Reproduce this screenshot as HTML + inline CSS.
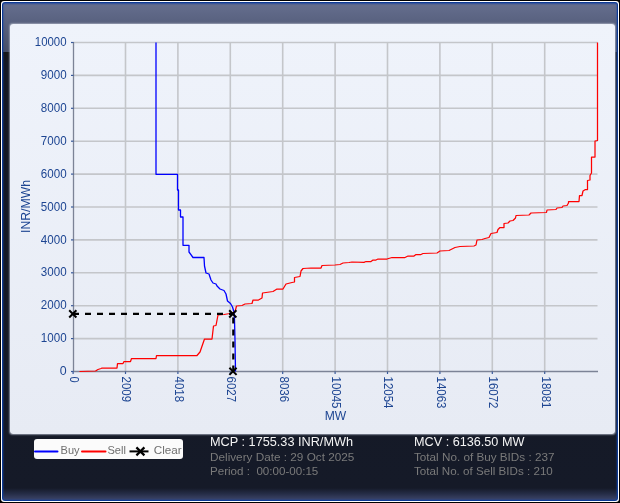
<!DOCTYPE html>
<html><head><meta charset="utf-8">
<style>
html,body{margin:0;padding:0;}
body{width:620px;height:503px;overflow:hidden;position:relative;background:#000;font-family:"Liberation Sans",sans-serif;}
#w{position:absolute;left:1px;top:1px;width:618px;height:501px;background:#fff;border-radius:3px;}
#b{position:absolute;left:2px;top:2px;width:616px;height:499px;background:#0c3a96;border-radius:3px;}
#in{position:absolute;left:3px;top:3px;width:614px;height:497px;border-radius:2px;overflow:hidden;
 background:linear-gradient(to bottom,#3f5590 0px,#646d8d 2px,#5a6381 17px,#474f68 48px,#454d66 49px,#161719 49.5px,#141824 60px,#151a28 485px,#262d48 491px,#3a4264 496px,#3a4264 497px);}
#pn{position:absolute;left:9.5px;top:24px;width:605.5px;height:409.5px;border-radius:3px;
 background:linear-gradient(to bottom,#eff3fb 0%,#e7ebf4 100%);box-shadow:0 0 1.5px 0.8px rgba(165,172,188,.75);}
svg{position:absolute;left:0;top:0;}
#gl{position:absolute;left:3px;top:3px;width:614px;height:497px;border-radius:2px;box-shadow:inset 0 0 1.2px 0.6px rgba(20,70,170,.55);}
.g{stroke:#c4c6ca;stroke-width:1.6;}
.ax{stroke:#7c8396;stroke-width:1.3;}
.tk{stroke:#3a5a9a;stroke-width:1.2;}
.yl{font-size:12.4px;fill:#1d4592;text-anchor:end;}
.xl{font-size:12.4px;fill:#1d4592;}
.tt{font-size:12.2px;fill:#1d4592;}
.buy{fill:none;stroke:#0000ff;stroke-width:1.3;stroke-linejoin:round;}
.sell{fill:none;stroke:#ff0000;stroke-width:1.25;stroke-linejoin:round;}
.cl{stroke:#000;stroke-width:2.2;stroke-dasharray:6 6;}
.xm{stroke:#000;stroke-width:2;fill:none;}
#lg{position:absolute;left:34px;top:439.2px;width:149px;height:20px;background:#fbfbfb;border-radius:3px;}
.lt{position:absolute;top:443px;font-size:12px;color:#6f6f6f;line-height:14px;white-space:nowrap;}
.st{position:absolute;font-size:12px;line-height:14px;white-space:nowrap;}
.wh{fill:#f4f4f4;font-size:12.7px;}
.gy{fill:#7a7a7a;font-size:11px;}
.lg{fill:#6f6f6f;font-size:11.2px;}
</style></head><body>
<div id="w"></div><div id="b"></div><div id="in"></div>
<div id="pn"></div><div id="gl"></div>
<svg width="620" height="503" viewBox="0 0 620 503" style="will-change:transform">
<line x1="73.5" y1="42.50" x2="597.5" y2="42.50" class="g"/>
<line x1="73.5" y1="75.40" x2="597.5" y2="75.40" class="g"/>
<line x1="73.5" y1="108.30" x2="597.5" y2="108.30" class="g"/>
<line x1="73.5" y1="141.20" x2="597.5" y2="141.20" class="g"/>
<line x1="73.5" y1="174.10" x2="597.5" y2="174.10" class="g"/>
<line x1="73.5" y1="207.00" x2="597.5" y2="207.00" class="g"/>
<line x1="73.5" y1="239.90" x2="597.5" y2="239.90" class="g"/>
<line x1="73.5" y1="272.80" x2="597.5" y2="272.80" class="g"/>
<line x1="73.5" y1="305.70" x2="597.5" y2="305.70" class="g"/>
<line x1="73.5" y1="338.60" x2="597.5" y2="338.60" class="g"/>
<line x1="125.50" y1="42.5" x2="125.50" y2="371.5" class="g"/>
<line x1="177.90" y1="42.5" x2="177.90" y2="371.5" class="g"/>
<line x1="230.30" y1="42.5" x2="230.30" y2="371.5" class="g"/>
<line x1="282.70" y1="42.5" x2="282.70" y2="371.5" class="g"/>
<line x1="335.10" y1="42.5" x2="335.10" y2="371.5" class="g"/>
<line x1="387.50" y1="42.5" x2="387.50" y2="371.5" class="g"/>
<line x1="439.90" y1="42.5" x2="439.90" y2="371.5" class="g"/>
<line x1="492.30" y1="42.5" x2="492.30" y2="371.5" class="g"/>
<line x1="544.70" y1="42.5" x2="544.70" y2="371.5" class="g"/>
<line x1="73.5" y1="42" x2="73.5" y2="372" class="ax"/>
<line x1="73" y1="371.5" x2="598" y2="371.5" class="ax"/>
<line x1="71" y1="42.50" x2="73.5" y2="42.50" class="tk"/>
<line x1="71" y1="75.40" x2="73.5" y2="75.40" class="tk"/>
<line x1="71" y1="108.30" x2="73.5" y2="108.30" class="tk"/>
<line x1="71" y1="141.20" x2="73.5" y2="141.20" class="tk"/>
<line x1="71" y1="174.10" x2="73.5" y2="174.10" class="tk"/>
<line x1="71" y1="207.00" x2="73.5" y2="207.00" class="tk"/>
<line x1="71" y1="239.90" x2="73.5" y2="239.90" class="tk"/>
<line x1="71" y1="272.80" x2="73.5" y2="272.80" class="tk"/>
<line x1="71" y1="305.70" x2="73.5" y2="305.70" class="tk"/>
<line x1="71" y1="338.60" x2="73.5" y2="338.60" class="tk"/>
<line x1="71" y1="371.50" x2="73.5" y2="371.50" class="tk"/>
<line x1="73.10" y1="371.5" x2="73.10" y2="374" class="tk"/>
<line x1="125.50" y1="371.5" x2="125.50" y2="374" class="tk"/>
<line x1="177.90" y1="371.5" x2="177.90" y2="374" class="tk"/>
<line x1="230.30" y1="371.5" x2="230.30" y2="374" class="tk"/>
<line x1="282.70" y1="371.5" x2="282.70" y2="374" class="tk"/>
<line x1="335.10" y1="371.5" x2="335.10" y2="374" class="tk"/>
<line x1="387.50" y1="371.5" x2="387.50" y2="374" class="tk"/>
<line x1="439.90" y1="371.5" x2="439.90" y2="374" class="tk"/>
<line x1="492.30" y1="371.5" x2="492.30" y2="374" class="tk"/>
<line x1="544.70" y1="371.5" x2="544.70" y2="374" class="tk"/>
<text x="66.6" y="46.10" class="yl" textLength="31.8" lengthAdjust="spacingAndGlyphs">10000</text>
<text x="66.6" y="79.00" class="yl" textLength="25.8" lengthAdjust="spacingAndGlyphs">9000</text>
<text x="66.6" y="111.90" class="yl" textLength="25.8" lengthAdjust="spacingAndGlyphs">8000</text>
<text x="66.6" y="144.80" class="yl" textLength="25.8" lengthAdjust="spacingAndGlyphs">7000</text>
<text x="66.6" y="177.70" class="yl" textLength="25.8" lengthAdjust="spacingAndGlyphs">6000</text>
<text x="66.6" y="210.60" class="yl" textLength="25.8" lengthAdjust="spacingAndGlyphs">5000</text>
<text x="66.6" y="243.50" class="yl" textLength="25.8" lengthAdjust="spacingAndGlyphs">4000</text>
<text x="66.6" y="276.40" class="yl" textLength="25.8" lengthAdjust="spacingAndGlyphs">3000</text>
<text x="66.6" y="309.30" class="yl" textLength="25.8" lengthAdjust="spacingAndGlyphs">2000</text>
<text x="66.6" y="342.20" class="yl" textLength="25.8" lengthAdjust="spacingAndGlyphs">1000</text>
<text x="66.6" y="375.10" class="yl">0</text>
<text transform="translate(69.90,376.6) rotate(90)" class="xl" textLength="6.2" lengthAdjust="spacingAndGlyphs">0</text>
<text transform="translate(122.30,376.6) rotate(90)" class="xl" textLength="25.5" lengthAdjust="spacingAndGlyphs">2009</text>
<text transform="translate(174.70,376.6) rotate(90)" class="xl" textLength="25.5" lengthAdjust="spacingAndGlyphs">4018</text>
<text transform="translate(227.10,376.6) rotate(90)" class="xl" textLength="25.5" lengthAdjust="spacingAndGlyphs">6027</text>
<text transform="translate(279.50,376.6) rotate(90)" class="xl" textLength="25.5" lengthAdjust="spacingAndGlyphs">8036</text>
<text transform="translate(331.90,376.6) rotate(90)" class="xl" textLength="31.8" lengthAdjust="spacingAndGlyphs">10045</text>
<text transform="translate(384.30,376.6) rotate(90)" class="xl" textLength="31.8" lengthAdjust="spacingAndGlyphs">12054</text>
<text transform="translate(436.70,376.6) rotate(90)" class="xl" textLength="31.8" lengthAdjust="spacingAndGlyphs">14063</text>
<text transform="translate(489.10,376.6) rotate(90)" class="xl" textLength="31.8" lengthAdjust="spacingAndGlyphs">16072</text>
<text transform="translate(541.50,376.6) rotate(90)" class="xl" textLength="31.8" lengthAdjust="spacingAndGlyphs">18081</text>
<text transform="translate(30.2,206.5) rotate(-90)" class="tt" text-anchor="middle" textLength="53" lengthAdjust="spacingAndGlyphs">INR/MWh</text>
<text x="335.5" y="419.5" class="tt" text-anchor="middle" textLength="21.5" lengthAdjust="spacingAndGlyphs">MW</text>
<polyline points="156,42.5 156,174.3 177.5,174.3 177.5,190 178.5,190 178.5,210 180.5,210 180.5,217 183,217 183,245.3 189,245.3 189,252 193,257.5 204,257.5 204.5,266 206,273 209,274 211,280 213,283 216,284 217,286 220,289 224,290.5 226,294 227.5,301 230.5,303.5 232.5,307 234,312 234.5,320 235,340 235.5,371.5" class="buy"/>
<polyline points="79.5,371.5 95.5,371 98,369.5 101,368.5 102,368 117,368 117.5,363.5 123,363.5 124,361.5 130.5,361.5 131.5,358.5 156,358.5 156.5,355.5 197,355.5 200,352 204.5,339 212,339 213.5,326 216,325.5 218,315 224,314.5 230,313.5 235,312 236.5,306 242,305.5 245,304 252,303.5 253,300 258.5,300 262,298 262.5,293 273,291.5 277,289 283,289 286,284 292,282.5 294.5,282 294.5,277.5 300,276.5 301,271 303,268.5 311,268 321,268 322,265.5 335,265 340,264.5 343,263 349,262.5 352,262 364,262.3 366,261.5 371,261.5 373,260 376,260 378,259 387,259 392,257.5 405,257.5 408,256 414,256 416,254.5 421,254.5 423,253.5 437,253 440,251 449,250.5 455,247.5 460,246.5 474,246 476,245 477,240 482,239.5 485,238.5 489,237.5 491,233.5 497,232.5 498,229.5 500,227.5 504,227.5 504,223.5 508,223 510,221 513,220.5 515.5,218 516,215.5 529,215 531,213 546.5,212.5 547,210 556,209.5 557,208 562,207.5 563,206 567,205.5 568.5,203 568.5,201.5 579,201.5 579.5,195.5 582,195.5 583,191 585.5,189.5 587.5,189.5 587.5,180.5 590,180 590,175.5 591.5,173 591.5,157 595,157 595,141 597.5,140.5 597.5,42.5" class="sell"/>
<line x1="73" y1="313.9" x2="233.3" y2="313.9" class="cl" />
<line x1="233.3" y1="371.5" x2="233.3" y2="313.9" class="cl" />
<path d="M69.2 310.3L76.4 317.5M69.2 317.5L76.4 310.3" class="xm"/>
<path d="M229.2 310.3L236.4 317.5M229.2 317.5L236.4 310.3" class="xm"/>
<path d="M229.4 367.7L236.6 374.9M229.4 374.9L236.6 367.7" class="xm"/>
</svg>
<div id="lg"></div>
<svg width="620" height="503" viewBox="0 0 620 503">
<line x1="35" y1="451.4" x2="57.5" y2="451.4" stroke="#0000ff" stroke-width="2" stroke-linecap="round"/>
<line x1="82" y1="451.4" x2="105.5" y2="451.4" stroke="#ff0000" stroke-width="2" stroke-linecap="round"/>
<line x1="129.5" y1="451.4" x2="148.5" y2="451.4" stroke="#000" stroke-width="2"/>
<path d="M136.4 447.4L144.4 455.4M136.4 455.4L144.4 447.4" stroke="#000" stroke-width="2.2"/>
</svg>
<svg width="620" height="503" viewBox="0 0 620 503" style="will-change:transform">
<text x="60.6" y="454.4" class="lg" textLength="19" lengthAdjust="spacingAndGlyphs">Buy</text>
<text x="107.4" y="454.4" class="lg" textLength="18.5" lengthAdjust="spacingAndGlyphs">Sell</text>
<text x="153.8" y="454.4" class="lg" textLength="27.9" lengthAdjust="spacingAndGlyphs">Clear</text>
<text x="210" y="446" class="wh" textLength="143" lengthAdjust="spacingAndGlyphs">MCP : 1755.33 INR/MWh</text>
<text x="210" y="460.5" class="gy" textLength="144.3" lengthAdjust="spacingAndGlyphs">Delivery Date : 29 Oct 2025</text>
<text x="210" y="475.2" class="gy" textLength="108.3" lengthAdjust="spacingAndGlyphs" xml:space="preserve">Period :  00:00-00:15</text>
<text x="414" y="446" class="wh" textLength="110.4" lengthAdjust="spacingAndGlyphs">MCV : 6136.50 MW</text>
<text x="414" y="460.5" class="gy" textLength="140.4" lengthAdjust="spacingAndGlyphs">Total No. of Buy BIDs : 237</text>
<text x="414" y="475.2" class="gy" textLength="138.8" lengthAdjust="spacingAndGlyphs">Total No. of Sell BIDs : 210</text>
</svg>
</body></html>
